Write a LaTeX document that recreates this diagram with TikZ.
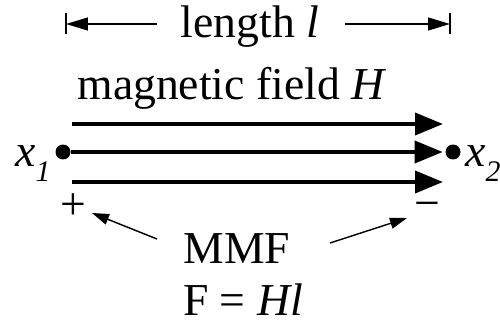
\documentclass[tikz,border=0pt]{standalone}
\usepackage{fontspec}
\setmainfont{Liberation Serif}
\usetikzlibrary{arrows.meta, positioning}
\tikzset{field line/.style={draw,line width=2.2pt,-{Triangle[length=0.56cm,width=0.44cm]}},
    dim line/.style={draw,line width=0.8pt,-{Triangle[length=0.44cm,width=0.26cm]}},
    pointer/.style={draw,line width=0.8pt,-{Triangle[length=0.34cm,width=0.22cm]}},
    pole/.style={circle,fill=black,minimum size=0.3cm,inner sep=0pt},
    label/.style={font=\fontsize{26}{30}\selectfont,inner sep=0pt},
    sublabel/.style={font=\fontsize{17}{20}\selectfont}}

\begin{document}
\begin{tikzpicture}[x=0.02cm,y=-0.02cm]
    \useasboundingbox (0,0) rectangle (500,324);
    % length of the path
    \node[label,anchor=base] (len) at (250,38) {length \textit{l}};
    \coordinate (len l) at (157,24);
    \coordinate (len r) at (345,24);
    \coordinate (bar l) at (66,24);
    \coordinate (bar r) at (450,24);
    \draw[dim line] (len l) -- (bar l);
    \draw[dim line] (len r) -- (bar r);
    \foreach \b in {bar l, bar r}
        \draw[line width=0.8pt] ([yshift=0.22cm]\b) -- ([yshift=-0.2cm]\b);

    % field lines
    \node[label,anchor=base] (field) at (232,100) {magnetic field \textit{H}};
    \node[pole] (x1) at (63,152) {};
    \node[pole] (x2) at (453,152) {};
    \node[label,anchor=base east] (x1 lab) at (51,167) {\textit{x}\raisebox{-8.5pt}{\fontsize{17}{20}\selectfont\textit{1}}};
    \node[label,anchor=base west] (x2 lab) at (465,167) {\textit{x}\raisebox{-8.5pt}{\fontsize{17}{20}\selectfont\textit{2}}};
    \foreach \n/\y in {top/124, bot/182}{
        \coordinate (\n\space start) at (72,\y);
        \coordinate (\n\space end) at (443,\y);
        \draw[field line] (\n\space start) -- (\n\space end);
    }
    \draw[field line,shorten >=0.05cm] (x1) -- (x2);

    % mmf
    \node[label] (plus) at (73,207) {+};
    \node[label] (minus) at (427,210) {−};
    \node[label,anchor=base] (mmf) at (237,263) {MMF};
    \node[label,anchor=base] (formula) at (243,315) {F = \textit{Hl}};
    \coordinate (mmf l) at (157,239);
    \coordinate (mmf r) at (330,243);
    \coordinate (plus tip) at (92,213);
    \coordinate (minus tip) at (407,218);
    \draw[pointer] (mmf l) -- (plus tip);
    \draw[pointer] (mmf r) -- (minus tip);
\end{tikzpicture}
\end{document}
